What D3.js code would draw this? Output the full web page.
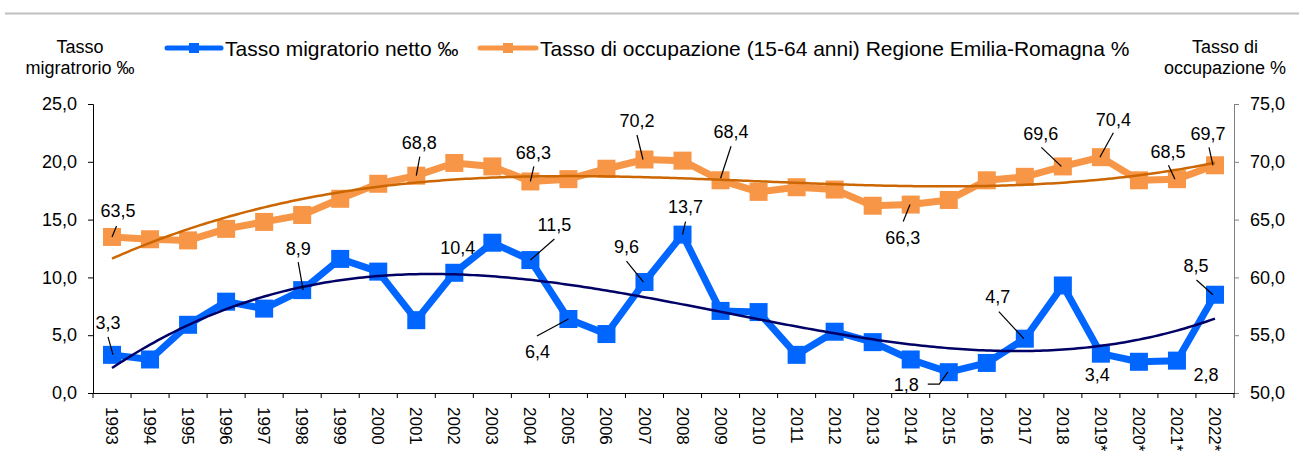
<!DOCTYPE html>
<html>
  <head>
    <meta charset="utf-8">
    <title>Tasso migratorio netto e tasso di occupazione</title>
    <style type="text/css">
    body { margin: 0; background: #fff; }
    svg text { font-family: "Liberation Sans", Arial, sans-serif; fill: #000; }
    </style>
  </head>
  <body>
    <div id="chart"></div>
    <script src="https://d3js.org/d3.v7.min.js"></script>
    <script>

    // data
    var years = ["1993","1994","1995","1996","1997","1998","1999","2000","2001","2002",
                 "2003","2004","2005","2006","2007","2008","2009","2010","2011","2012",
                 "2013","2014","2015","2016","2017","2018","2019*","2020*","2021*","2022*"];

    var migratorio = [3.3, 2.9, 5.9, 7.9, 7.3, 8.9, 11.6, 10.5, 6.3, 10.4,
                      13.0, 11.5, 6.4, 5.1, 9.6, 13.7, 7.1, 7.0, 3.3, 5.3,
                      4.4, 2.9, 1.8, 2.6, 4.7, 9.3, 3.4, 2.7, 2.8, 8.5];

    var occupazione = [63.5, 63.3, 63.2, 64.2, 64.8, 65.4, 66.8, 68.1, 68.8, 69.9,
                       69.6, 68.3, 68.5, 69.4, 70.2, 70.1, 68.4, 67.4, 67.8, 67.6,
                       66.2, 66.3, 66.7, 68.4, 68.7, 69.6, 70.4, 68.4, 68.5, 69.7];

    var leftTicks = [0, 5, 10, 15, 20, 25];
    var rightTicks = [50, 55, 60, 65, 70, 75];

    var legendNames = ["Tasso migratorio netto \u2030",
                       "Tasso di occupazione (15-64 anni) Regione Emilia-Romagna %"];

    // which points get a value label (layout only: text offset and leader line)
    var migrLabels = [
      {year: "1993", dx: -4, dy: -32, lead: [[-4, -18], [1, 0]]},
      {year: "1998", dx: -4, dy: -42, lead: [[-4, -28], [1, 0]]},
      {year: "2002", dx: 3.5, dy: -25},
      {year: "2004", dx: 24, dy: -35, lead: [[24, -21], [0, 0]]},
      {year: "2005", dx: -31, dy: 33, lead: [[-31.5, 17], [0, 0]]},
      {year: "2007", dx: -18, dy: -35, lead: [[-18, -21], [-1, 0]]},
      {year: "2008", dx: 3, dy: -27.6, lead: [[3, -13], [0, 0]]},
      {year: "2015", dx: -42.5, dy: 12.6, lead: [[-21, 12], [-9.5, 12], [-1, 0]]},
      {year: "2017", dx: -27, dy: -42, lead: [[-26, -27], [-1, 0]]},
      {year: "2019*", dx: -3.5, dy: 21},
      {year: "2021*", dx: 29, dy: 14},
      {year: "2022*", dx: -19, dy: -29, lead: [[-18.5, -14.7], [-2, 0]]}
    ];
    var occLabels = [
      {year: "1993", dx: 6, dy: -26, lead: [[4.5, -11], [0, 0]]},
      {year: "2001", dx: 3, dy: -32.7, lead: [[3.5, -19], [0, 0]]},
      {year: "2004", dx: 3, dy: -28.4, lead: [[3.5, -15], [0, 0]]},
      {year: "2007", dx: -7.5, dy: -39, lead: [[-7.5, -24.5], [-1.5, 0]]},
      {year: "2009", dx: 10.5, dy: -48.6, lead: [[10.5, -34], [0, -2]]},
      {year: "2014", dx: -8, dy: 32.7, lead: [[-7.5, 17], [-0.7, 0]]},
      {year: "2018", dx: -22, dy: -32.4, lead: [[-21.5, -19], [-1.5, 0]]},
      {year: "2019*", dx: 12.5, dy: -38, lead: [[12.5, -24.5], [-1, 0]]},
      {year: "2021*", dx: -9, dy: -28, lead: [[-8.5, -14], [-2, 0]]},
      {year: "2022*", dx: -7, dy: -31.6, lead: [[-6, -18], [-2, 0]]}
    ];

    var blue = "#0066ff", orange = "#f79646", navy = "#000066", brown = "#cc6600";

    var width = 1299, height = 460;
    var plot = {left: 93, right: 1234, top: 104, bottom: 393};

    var itFormat = d3.formatLocale({decimal: ",", thousands: ".", grouping: [3], currency: ["", "\u20ac"]}).format(".1f");

    var svg = d3.select("#chart").append("svg")
      .attr("width", width)
      .attr("height", height);

    var x = d3.scaleBand().domain(years).range([plot.left, plot.right]);
    var yL = d3.scaleLinear().domain([0, 25]).range([plot.bottom, plot.top]);
    var yR = d3.scaleLinear().domain([50, 75]).range([plot.bottom, plot.top]);
    var cx = function(d) { return x(d) + x.bandwidth() / 2; };

    // grey rule under the (cropped) title
    svg.append("line")
      .attr("x1", 5).attr("x2", width)
      .attr("y1", 13.5).attr("y2", 13.5)
      .attr("stroke", "#bfbfbf").attr("stroke-width", 2);

    // axis titles
    function twoLines(lines, xc) {
      var t = svg.append("text").attr("text-anchor", "middle").style("font-size", "18px");
      t.append("tspan").attr("x", xc).attr("y", 53).text(lines[0]);
      t.append("tspan").attr("x", xc).attr("y", 73.5).text(lines[1]);
    }
    twoLines(["Tasso", "migratrorio \u2030"], 80);
    twoLines(["Tasso di", "occupazione %"], 1225);

    // legend
    var legendItems = [
      {name: legendNames[0], color: blue, x1: 167, x2: 221},
      {name: legendNames[1], color: orange, x1: 480, x2: 536}
    ];
    legendItems.forEach(function(it) {
      svg.append("line")
        .attr("x1", it.x1).attr("x2", it.x2).attr("y1", 48).attr("y2", 48)
        .attr("stroke", it.color).attr("stroke-width", 5).attr("stroke-linecap", "round");
      svg.append("rect")
        .attr("x", (it.x1 + it.x2) / 2 - 5).attr("y", 43).attr("width", 10).attr("height", 10)
        .attr("fill", it.color);
      svg.append("text")
        .attr("x", it.x2 + 4).attr("y", 55.5)
        .style("font-size", "21px")
        .text(it.name);
    });

    // axes
    var axL = svg.append("g")
      .attr("transform", "translate(" + plot.left + ",0)")
      .call(d3.axisLeft(yL).tickValues(leftTicks).tickFormat(itFormat).tickSize(5).tickPadding(11));
    axL.selectAll("text").style("font-size", "18px").style("font-family", "Liberation Sans, Arial, sans-serif");

    var axR = svg.append("g")
      .attr("transform", "translate(" + plot.right + ",0)")
      .call(d3.axisRight(yR).tickValues(rightTicks).tickFormat(itFormat).tickSize(5).tickPadding(11));
    axR.selectAll("path, line").attr("stroke", "#808080");
    axR.selectAll("text").style("font-size", "18px").style("font-family", "Liberation Sans, Arial, sans-serif");

    var axB = svg.append("g")
      .attr("transform", "translate(0," + plot.bottom + ")")
      .call(d3.axisBottom(x).tickSize(0).tickSizeOuter(0).tickPadding(0));
    axB.selectAll(".tick text")
      .attr("transform", "rotate(90)")
      .attr("text-anchor", "start")
      .attr("x", 14)
      .attr("y", 0)
      .attr("dy", "0.35em")
      .style("font-size", "17px")
      .style("font-family", "Liberation Sans, Arial, sans-serif");
    // category boundary ticks
    axB.selectAll(".bound")
      .data(years.concat(["end"]))
      .enter().append("line")
      .attr("class", "bound")
      .attr("x1", function(d, i) { return i < years.length ? x(d) : plot.right; })
      .attr("x2", function(d, i) { return i < years.length ? x(d) : plot.right; })
      .attr("y1", 0).attr("y2", 5)
      .attr("stroke", "#000");
    axL.select(".domain").attr("stroke", "#000");

    // polynomial least squares (trend lines)
    function polyfit(ys, deg) {
      var n = ys.length, m = deg + 1;
      var A = [], b = [];
      for (var r = 0; r < m; r++) { A.push(new Array(m).fill(0)); b.push(0); }
      ys.forEach(function(yv, i) {
        var t = i / (n - 1) * 2 - 1;
        for (var r = 0; r < m; r++) {
          b[r] += yv * Math.pow(t, r);
          for (var c = 0; c < m; c++) A[r][c] += Math.pow(t, r + c);
        }
      });
      for (var k = 0; k < m; k++) {
        for (var r2 = k + 1; r2 < m; r2++) {
          var f = A[r2][k] / A[k][k];
          for (var c2 = k; c2 < m; c2++) A[r2][c2] -= f * A[k][c2];
          b[r2] -= f * b[k];
        }
      }
      var coef = new Array(m).fill(0);
      for (var k2 = m - 1; k2 >= 0; k2--) {
        var s = b[k2];
        for (var c3 = k2 + 1; c3 < m; c3++) s -= A[k2][c3] * coef[c3];
        coef[k2] = s / A[k2][k2];
      }
      return function(i) {
        var t = i / (n - 1) * 2 - 1, v = 0;
        for (var r = 0; r < m; r++) v += coef[r] * Math.pow(t, r);
        return v;
      };
    }

    var idx = d3.scaleLinear().domain([0, years.length - 1]).range([cx(years[0]), cx(years[years.length - 1])]);
    var steps = d3.range(0, years.length - 1 + 0.001, 0.1);

    function drawSeries(vals, yScale, color, markerSize) {
      var pts = vals.map(function(v, i) { return {year: years[i], value: v}; });
      svg.append("path")
        .datum(pts)
        .attr("fill", "none")
        .attr("stroke", color)
        .attr("stroke-width", 7)
        .attr("stroke-linejoin", "round")
        .attr("d", d3.line().x(function(d) { return cx(d.year); }).y(function(d) { return yScale(d.value); }));
      svg.append("g").selectAll("rect")
        .data(pts)
        .enter().append("rect")
        .attr("x", function(d) { return cx(d.year) - markerSize / 2; })
        .attr("y", function(d) { return yScale(d.value) - markerSize / 2; })
        .attr("width", markerSize).attr("height", markerSize)
        .attr("fill", color);
    }

    function drawTrend(vals, yScale, color) {
      var fit = polyfit(vals, 3);
      svg.append("path")
        .datum(steps)
        .attr("fill", "none")
        .attr("stroke", color)
        .attr("stroke-width", 2.5)
        .attr("d", d3.line().x(function(s) { return idx(s); }).y(function(s) { return yScale(fit(s)); }));
    }

    function drawLabels(list, vals, yScale) {
      list.forEach(function(l) {
        var i = years.indexOf(l.year);
        var px = cx(l.year), py = yScale(vals[i]);
        if (l.lead) {
          svg.append("path")
            .attr("fill", "none").attr("stroke", "#000").attr("stroke-width", 1.2)
            .attr("d", d3.line()(l.lead.map(function(p) { return [px + p[0], py + p[1]]; })));
        }
        svg.append("text")
          .attr("x", px + l.dx).attr("y", py + l.dy + 6.4)
          .attr("text-anchor", "middle")
          .style("font-size", "18px")
          .text(itFormat(vals[i]));
      });
    }

    drawSeries(occupazione, yR, orange, 18);
    drawSeries(migratorio, yL, blue, 18);
    drawTrend(occupazione, yR, brown);
    drawTrend(migratorio, yL, navy);
    drawLabels(occLabels, occupazione, yR);
    drawLabels(migrLabels, migratorio, yL);

    </script>
  </body>
</html>
